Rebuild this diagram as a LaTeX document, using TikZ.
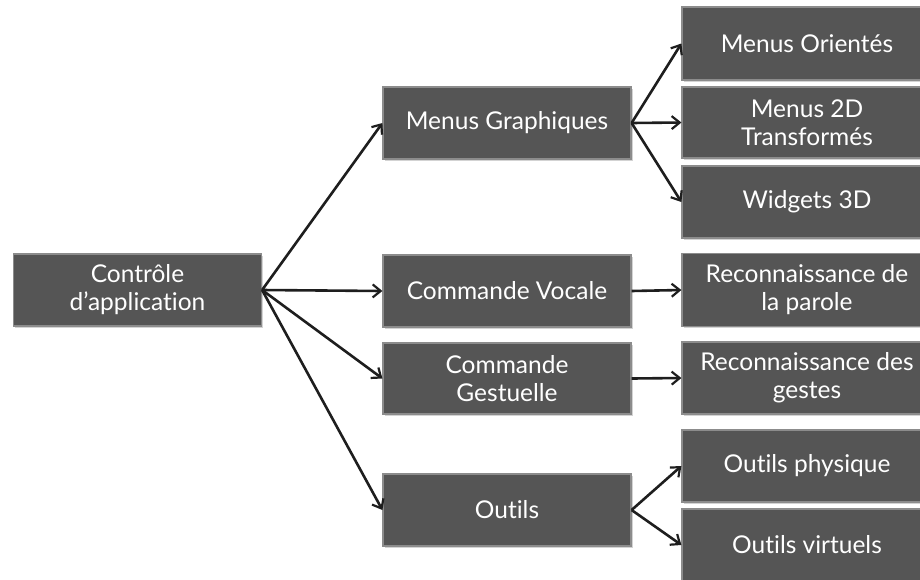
\documentclass[tikz,border=0pt]{standalone}
\usepackage{fontspec}
\setmainfont{Lato}[Ligatures=NoCommon]
\usetikzlibrary{arrows.meta,shadows}
\definecolor{boxfill}{RGB}{85,85,85}
\definecolor{boxline}{RGB}{140,140,140}
\definecolor{arrowcol}{RGB}{30,30,30}
\tikzset{
  box/.style={rectangle, fill=boxfill, draw=boxline, line width=1.2pt,
    minimum width=248pt, minimum height=72pt, inner sep=0pt,
    text=white, align=center, font=\fontsize{24.5}{28}\selectfont,
    drop shadow={shadow xshift=1.5pt, shadow yshift=-1.5pt, opacity=0.35, fill=gray}},
  wbox/.style={box, minimum width=250pt},
  conn/.style={draw=arrowcol, line width=2.6pt, -{Straight Barb[length=8pt,width=13pt,line width=2.2pt]}}
}
\begin{document}
\begin{tikzpicture}[x=1pt,y=-1pt]
\useasboundingbox (0,0) rectangle (920,579);
\node[box] (ctrl) at (137.5,290) {Contrôle\\d’application};
\node[box] (mg) at (507,123) {Menus Graphiques};
\node[box] (cv) at (507,291) {Commande Vocale};
\node[box, minimum height=71pt] (cg) at (507,378.5) {Commande\\Gestuelle};
\node[box] (ou) at (507,510) {Outils};
\node[wbox, minimum height=73pt] (mo) at (807,43.5) {Menus Orientés};
\node[wbox, minimum height=71pt] (m2) at (807,122.5) {Menus 2D\\Transformés};
\node[wbox] (w3) at (807,202) {Widgets 3D};
\node[wbox, minimum height=73pt] (rp) at (807,290) {Reconnaissance de\\la parole};
\node[wbox] (rg) at (807,378) {Reconnaissance des\\gestes};
\node[wbox] (op) at (807,466) {Outils physique};
\node[wbox] (ov) at (807,545) {Outils virtuels};
\draw[conn] (ctrl.east) -- (mg.west);
\draw[conn] (ctrl.east) -- (cv.west);
\draw[conn] (ctrl.east) -- (cg.west);
\draw[conn] (ctrl.east) -- (ou.west);
\draw[conn] (mg.east) -- (mo.west);
\draw[conn] (mg.east) -- (m2.west);
\draw[conn] (mg.east) -- (w3.west);
\draw[conn] (cv.east) -- (rp.west);
\draw[conn] (cg.east) -- (rg.west);
\draw[conn] (ou.east) -- (op.west);
\draw[conn] (ou.east) -- (ov.west);
\end{tikzpicture}
\end{document}
